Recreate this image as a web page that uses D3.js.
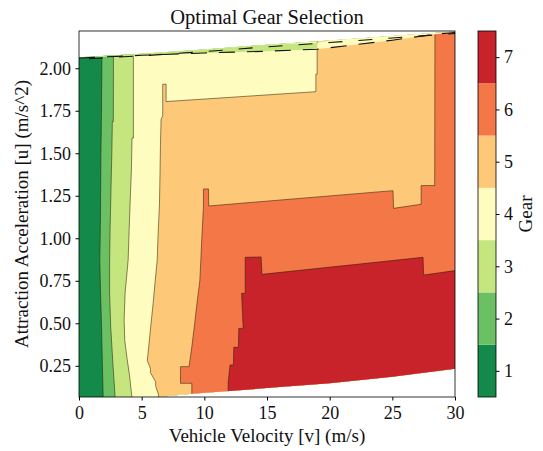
<!DOCTYPE html>
<html>
<head>
<meta charset="utf-8">
<script src="https://cdn.jsdelivr.net/npm/d3@7"></script>
<style>
body { margin: 0; background: #fff; }
</style>
</head>
<body>
<div id="chart"></div>
<script>
const gears = [1, 2, 3, 4, 5, 6, 7];
const gearColors = ["#138a49", "#6cc064", "#c5e67e", "#fefcbf", "#fdc979", "#f47748", "#c8232a"];
const xTicks = [0, 5, 10, 15, 20, 25, 30];
const yTicks = [0.25, 0.5, 0.75, 1.0, 1.25, 1.5, 1.75, 2.0];
const vRange = [0, 30];
const uRange = [0.0665, 2.219];

// edges of the data region, points are [v, u]
const topEdge = [[0, 2.065], [5, 2.085], [10, 2.11], [15, 2.138], [20, 2.163], [25, 2.19], [30, 2.216]];
const sliverEdge = [[0, 2.06], [5, 2.076], [10, 2.09], [15, 2.1], [19, 2.112], [22, 2.138], [25, 2.165], [28.4, 2.2], [30, 2.21]];
const bottomEdge = [[0, 0.0665], [6.3, 0.0665], [9, 0.085], [12, 0.102], [16, 0.125], [20, 0.148], [25, 0.185], [30, 0.232]];

// left edge of the area where gear >= n, from bottom to top (or to the right side)
const gear2Edge = [[1.95, 0], [1.93, 0.066], [1.86, 0.28], [1.8, 0.48], [1.72, 0.68], [1.66, 0.87], [1.7, 1.05],
    [1.72, 1.2], [1.75, 1.5], [1.78, 1.65], [1.8, 1.8], [1.83, 2.07], [1.84, 2.3]];
const gear3Edge = [[2.9, 0], [2.88, 0.066], [2.69, 0.28], [2.53, 0.48], [2.44, 0.68], [2.44, 0.85], [2.48, 1.05],
    [2.55, 1.28], [2.62, 1.5], [2.66, 1.686], [2.74, 1.686], [2.75, 2.08], [2.76, 2.3]];
const gear4Edge = [[4.25, 0], [4.22, 0.066], [4.02, 0.2], [3.82, 0.3], [3.65, 0.4], [3.6, 0.52], [3.68, 0.68],
    [3.92, 0.87], [4.0, 1.05], [4.1, 1.25], [4.18, 1.4], [4.23, 1.59], [4.34, 1.59], [4.34, 2.09], [4.35, 2.3]];
const gear5Edge = [[6.34, 0], [6.34, 0.082], [6.12, 0.13], [6.12, 0.155], [5.7, 0.21], [5.7, 0.235], [5.45, 0.28],
    [5.55, 0.35], [5.72, 0.48], [5.92, 0.62], [6.08, 0.75], [6.24, 0.87], [6.3, 1.0], [6.42, 1.2], [6.47, 1.4],
    [6.5, 1.55], [6.55, 1.7], [6.68, 1.72], [6.68, 1.906], [6.95, 1.906], [6.95, 1.804], [18.9, 1.862],
    [18.9, 1.965], [19.0, 1.965], [19.0, 2.3]];
const gear6Edge = [[9.0, 0], [9.0, 0.147], [8.1, 0.147], [8.1, 0.245], [8.78, 0.245], [9.0, 0.36], [9.2, 0.48],
    [9.45, 0.64], [9.64, 0.75], [9.72, 0.87], [9.8, 1.0], [9.93, 1.186], [9.93, 1.29], [10.33, 1.29],
    [10.35, 1.19], [25.05, 1.28], [25.1, 1.176], [27.3, 1.2], [27.3, 1.31], [28.38, 1.31], [28.4, 2.3]];
const gear7Edge = [[11.9, 0], [11.9, 0.15], [12.05, 0.255], [12.32, 0.255], [12.35, 0.359], [12.72, 0.359],
    [12.75, 0.47], [13.1, 0.47], [12.97, 0.676], [13.26, 0.676], [13.26, 0.888], [14.53, 0.89], [14.6, 0.788],
    [27.45, 0.888], [27.5, 0.784], [30, 0.81]];
const gearEdges = [gear2Edge, gear3Edge, gear4Edge, gear5Edge, gear6Edge, gear7Edge];

const W = 543, H = 451;
const plot = { left: 79, top: 31, right: 455, bottom: 397 };
const font = "'Liberation Serif', 'Times New Roman', serif";

const svg = d3.select("#chart").append("svg")
    .attr("width", W)
    .attr("height", H)
    .style("font-family", font);

const x = d3.scaleLinear().domain(vRange).range([plot.left, plot.right]);
const y = d3.scaleLinear().domain(uRange).range([plot.bottom, plot.top]);
const line = d3.line().x(d => x(d[0])).y(d => y(d[1]));

const defs = svg.append("defs");
defs.append("clipPath").attr("id", "plot-clip")
    .append("rect")
    .attr("x", plot.left).attr("y", plot.top)
    .attr("width", plot.right - plot.left).attr("height", plot.bottom - plot.top);
defs.append("clipPath").attr("id", "data-clip")
    .append("path")
    .attr("d", line(topEdge.concat(bottomEdge.slice().reverse())) + "Z");

const area = svg.append("g").attr("clip-path", "url(#plot-clip)");
const data = area.append("g").attr("clip-path", "url(#data-clip)");

// gear 1 everywhere, then each higher gear painted over it
data.append("rect")
    .attr("x", plot.left).attr("y", plot.top - 5)
    .attr("width", plot.right - plot.left).attr("height", plot.bottom - plot.top + 10)
    .attr("fill", gearColors[0]);

gearEdges.forEach((edge, i) => {
    const first = edge[0], last = edge[edge.length - 1];
    const shape = edge.concat([[vRange[1] + 1, last[1]], [vRange[1] + 1, -0.5], [first[0], -0.5]]);
    data.append("path")
        .attr("d", line(shape) + "Z")
        .attr("fill", gearColors[i + 1]);
});

gearEdges.forEach(edge => {
    data.append("path")
        .attr("d", line(edge))
        .attr("fill", "none")
        .attr("stroke", "rgba(40,30,10,0.6)")
        .attr("stroke-width", 0.9);
});

// thin sliver along the top with dashed contour lines
const sliverLeft = topEdge.filter(d => d[0] <= 19).concat([[19, 2.15]]);
const sliverLow = sliverEdge.filter(d => d[0] <= 19).reverse();
area.append("path")
    .attr("d", line(sliverLeft.concat(sliverLow)) + "Z")
    .attr("fill", gearColors[2]);
const sliverRight = [[19, 2.15]].concat(topEdge.filter(d => d[0] > 19));
const sliverHigh = sliverEdge.filter(d => d[0] >= 19).reverse();
area.append("path")
    .attr("d", line(sliverRight.concat(sliverHigh)) + "Z")
    .attr("fill", gearColors[3]);

area.append("path")
    .attr("d", line(sliverEdge))
    .attr("fill", "none")
    .attr("stroke", "#111")
    .attr("stroke-width", 1.1)
    .attr("stroke-dasharray", "16,12");
area.append("path")
    .attr("d", line(topEdge.map(d => [d[0], d[1] - 0.012])))
    .attr("fill", "none")
    .attr("stroke", "#111")
    .attr("stroke-width", 1.1)
    .attr("stroke-dasharray", "14,16")
    .attr("stroke-dashoffset", -40);

// frame and axes
svg.append("rect")
    .attr("x", plot.left).attr("y", plot.top)
    .attr("width", plot.right - plot.left).attr("height", plot.bottom - plot.top)
    .attr("fill", "none")
    .attr("stroke", "#000")
    .attr("stroke-width", 0.8);

const xAxis = svg.append("g")
    .attr("transform", `translate(0, ${plot.bottom})`)
    .call(d3.axisBottom(x).tickValues(xTicks).tickSize(3.5).tickPadding(6).tickFormat(d3.format("d")));
const yAxis = svg.append("g")
    .attr("transform", `translate(${plot.left}, 0)`)
    .call(d3.axisLeft(y).tickValues(yTicks).tickSize(3.5).tickPadding(4.5).tickFormat(d3.format(".2f")));

[xAxis, yAxis].forEach(g => {
    g.select(".domain").remove();
    g.attr("font-family", font).attr("font-size", 18);
    g.selectAll("text").attr("fill", "#111");
});

svg.append("text")
    .attr("x", (plot.left + plot.right) / 2)
    .attr("y", 442)
    .attr("text-anchor", "middle")
    .attr("font-size", 19)
    .attr("fill", "#111")
    .text("Vehicle Velocity [v] (m/s)");

svg.append("text")
    .attr("transform", `translate(28, ${(plot.top + plot.bottom) / 2}) rotate(-90)`)
    .attr("text-anchor", "middle")
    .attr("font-size", 19)
    .attr("fill", "#111")
    .text("Attraction Acceleration [u] (m/s^2)");

svg.append("text")
    .attr("x", (plot.left + plot.right) / 2)
    .attr("y", 24)
    .attr("text-anchor", "middle")
    .attr("font-size", 20.5)
    .attr("fill", "#111")
    .text("Optimal Gear Selection");

// colorbar
const bar = { left: 478, right: 496 };
const cy = d3.scaleLinear().domain([0.5, 7.5]).range([plot.bottom, plot.top]);
svg.append("g").selectAll("rect")
    .data(gears)
    .join("rect")
    .attr("x", bar.left)
    .attr("y", d => cy(d + 0.5))
    .attr("width", bar.right - bar.left)
    .attr("height", d => cy(d - 0.5) - cy(d + 0.5))
    .attr("fill", (d, i) => gearColors[i]);
svg.append("rect")
    .attr("x", bar.left).attr("y", plot.top)
    .attr("width", bar.right - bar.left).attr("height", plot.bottom - plot.top)
    .attr("fill", "none")
    .attr("stroke", "#000")
    .attr("stroke-width", 0.8);

const cAxis = svg.append("g")
    .attr("transform", `translate(${bar.right}, 0)`)
    .call(d3.axisRight(cy).tickValues(gears).tickSize(3.5).tickPadding(4.5).tickFormat(d3.format("d")));
cAxis.select(".domain").remove();
cAxis.attr("font-family", font).attr("font-size", 18);
cAxis.selectAll("text").attr("fill", "#111");

svg.append("text")
    .attr("transform", `translate(532, ${(plot.top + plot.bottom) / 2}) rotate(-90)`)
    .attr("text-anchor", "middle")
    .attr("font-size", 19)
    .attr("fill", "#111")
    .text("Gear");
</script>
</body>
</html>
